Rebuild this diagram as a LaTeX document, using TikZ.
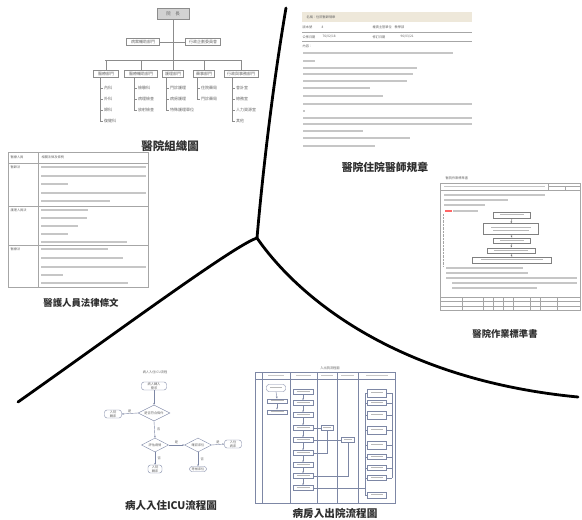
\documentclass[tikz,border=0pt]{standalone}
\usepackage{fontspec}
\newfontfamily\cjk{Noto Sans CJK TC}
\usetikzlibrary{shapes.geometric,arrows.meta}
\definecolor{flowc}{RGB}{125,135,165}
\definecolor{beige}{RGB}{238,232,218}
% a short grey bar standing in for a line of small print
\newcommand{\tbar}[1]{\textcolor{gray!55}{\rule[0.3pt]{#1}{1.2pt}}}

\begin{document}
\begin{tikzpicture}[x=1pt,y=-1pt,
  tiny/.style={font=\cjk\fontsize{4}{4.6}\selectfont, text=black!60, inner sep=0.6pt},
  micro/.style={font=\cjk\fontsize{3.2}{3.7}\selectfont, text=black!60, inner sep=0.4pt},
  orgbox/.style={draw=black!45, line width=0.5pt, fill=white, tiny, minimum height=7pt, inner sep=0.8pt},
  orgline/.style={draw=black!45, line width=0.5pt},
  caption/.style={font=\cjk\bfseries\fontsize{#1}{#1}\selectfont, text=black!82, inner sep=0pt},
  grid/.style={draw=black!35, line width=0.4pt},
  txtbar/.style={draw=gray!45, line width=1.3pt},
  flow/.style={draw=flowc, line width=0.4pt},
  flowbox/.style={flow, fill=white, micro, inner sep=0.5pt, align=center},
  term/.style={flowbox, rounded corners=2.5pt},
  dia/.style={flow, diamond, aspect=2, inner sep=0.2pt, fill=white, micro},
  arr/.style={flow, -{Stealth[length=2pt,width=1.6pt]}},
  branch/.style={line width=2.8pt, line cap=round, draw=black}]

\useasboundingbox[fill=white] (0,0) rectangle (582,520);

% ---------------- dividing strokes ----------------
\coordinate (topend) at (286,8);
\coordinate (junc) at (257,238);
\coordinate (leftend) at (18,402);
\coordinate (rightend) at (578,397);
\draw[branch] (topend) .. controls (272,90) and (262,180) .. (junc);
\draw[branch] (junc) .. controls (235,245) and (120,330) .. (leftend);
\draw[branch] (junc) .. controls (300,300) and (400,380) .. (rightend);

% ---------------- organisation chart ----------------
\node[orgbox, fill=gray!35, minimum width=32pt, minimum height=11pt, font=\cjk\fontsize{4.5}{5}\selectfont] (head) at (173,14) {院\quad 長};
\node[orgbox, minimum width=33pt] (aux1) at (143,42) {病案輔助部門};
\node[orgbox, minimum width=35pt] (aux2) at (203,42) {行政企劃委員會};
\draw[orgline] (aux1.east) -- (aux2.west);
\coordinate (busL) at (105,60);
\coordinate (busR) at (241,60);
\draw[orgline] (head.south) -- (173,60);
\draw[orgline] (busL) -- (busR);

\node[orgbox, minimum width=25pt] (d1) at (106,74) {醫療部門};
\node[orgbox, minimum width=33pt] (d2) at (141,74) {醫療輔助部門};
\node[orgbox, minimum width=21pt] (d3) at (173,74) {護理部門};
\node[orgbox, minimum width=21pt] (d4) at (204,74) {藥事部門};
\node[orgbox, minimum width=34pt] (d5) at (241,74) {行政與事務部門};
\foreach \d in {d1,d2,d3,d4,d5}
  \draw[orgline] (\d.north) -- (\d.north |- busL);

\foreach \d/\lx/\items in {
  d1/100/{內科,外科,婦科,復健科},
  d2/134/{檢驗科,病理檢查,放射檢查},
  d3/166/{門診護理,病房護理,特殊護理單位},
  d4/197/{住院藥局,門診藥局},
  d5/232/{會計室,總務室,人力資源室,其他}}{
  \foreach \it [count=\k] in \items {
    \pgfmathsetmacro{\yy}{77+11*\k}
    \draw[orgline] (\lx,\yy) -- ++(3,0);
    \node[tiny, anchor=west] (\d-\k) at (\lx+3.3,\yy) {\it};
    \xdef\lasty{\yy}
  }
  \draw[orgline] (\lx,78) -- (\lx,\lasty);
}
\node[caption=11.5] (orgtitle) at (170,146) {醫院組織圖};

% ---------------- resident regulations ----------------
\fill[beige] (302,12) rectangle (472,22);
\node[micro, anchor=west] (regname) at (306,17) {名稱：住院醫師規章};
\draw[grid] (302,32) -- (472,32);
\draw[grid] (302,41.5) -- (472,41.5);
\node[micro, anchor=west] (r1a) at (302,27) {版本號};
\node[micro, anchor=west] (r1b) at (321,27) {8};
\node[micro, anchor=west] (r1c) at (372,27) {權責主管單位};
\node[micro, anchor=west] (r1d) at (394,27) {教學部};
\node[micro, anchor=west] (r2a) at (302,37) {公佈日期};
\node[micro, anchor=west] (r2b) at (322,37) {76/02/18};
\node[micro, anchor=west] (r2c) at (372,37) {修訂日期};
\node[micro, anchor=west] (r2d) at (400,37) {96/03/21};
\node[micro, anchor=west] (r3a) at (302,46) {內容：};
\foreach \yy/\xe in {53/453, 61/315, 68/417, 74/413, 81/407, 88/370, 96/383,
                     104/472, 111/305, 118/472, 124/472, 131/363, 138/410, 146/375}
  \draw[txtbar] (303,\yy) -- (\xe,\yy);
\node[caption=10.8] (regtitle) at (385,167) {醫院住院醫師規章};

% ---------------- law table ----------------
\draw[grid] (8,152) rectangle (148,287);
\draw[grid] (38,152) -- (38,287);
\foreach \yy in {163,206,245} \draw[grid] (8,\yy) -- (148,\yy);
\node[micro, anchor=west] (lawh1) at (10,157.5) {醫療人員};
\node[micro, anchor=west] (lawh2) at (41,157.5) {相關法律及條例};
\node[micro, anchor=west] (law1) at (10,167) {醫師法};
\node[micro, anchor=west] (law2) at (10,210) {護理人員法};
\node[micro, anchor=west] (law3) at (10,249) {醫療法};
\foreach \yy/\xe in {167/146, 176/146, 184/68, 193/146, 201/110,
                     210/88, 218/87, 226/78, 234/68, 242/127,
                     249/108, 258/123, 267/146, 275/63, 283/128}
  \draw[txtbar] (41,\yy) -- (\xe,\yy);
\node[caption=9.4] (lawtitle) at (81,303) {醫護人員法律條文};

% ---------------- standard operating procedure ----------------
\node[micro, anchor=west] (sophead) at (445,178.5) {醫院作業標準書};
\draw[grid] (440,183) rectangle (580,310);
\draw[grid] (440,190) -- (580,190);
\draw[grid] (548,183) -- (548,190);
\draw[grid] (548,186.5) -- (580,186.5);
\draw[grid] (565,186.5) -- (565,190);
\foreach \yy/\xs/\xe in {186.5/444/545, 195/444/545, 200/444/508, 205/444/485, 211/453/478,
                         268/446/523, 273/446/528, 278/446/577, 283/452/577, 288/452/537}
  \draw[txtbar] (\xs,\yy) -- (\xe,\yy);
\draw[red!60, line width=1.3pt] (445,211) -- (452,211);
\draw[grid, densely dotted] (443,214) -- (443,266);
\node[flowbox, draw=black!50, minimum width=37pt, minimum height=6pt] (s1) at (512,215) {\tbar{24pt}};
\node[flowbox, draw=black!50, minimum width=55pt, minimum height=11pt] (s2) at (511,229) {\tbar{40pt}\\[-0.5pt]\tbar{36pt}};
\node[flowbox, draw=black!50, minimum width=37pt, minimum height=5.5pt] (s3) at (512,240.5) {\tbar{24pt}};
\node[flowbox, draw=black!50, minimum width=48pt, minimum height=5.5pt] (s4) at (511,250.5) {\tbar{34pt}};
\node[flowbox, draw=black!50, minimum width=79pt, minimum height=6pt] (s5) at (512,260) {\tbar{62pt}};
\foreach \a/\b in {s1/s2, s2/s3, s3/s4, s4/s5}
  \draw[arr, draw=black!55] (\a.south) -- (\b.north);
\draw[grid] (440,301.5) -- (580,301.5);
\draw[grid] (440,306) -- (580,306);
\draw[grid] (440,297) -- (580,297);
\foreach \xx in {462,483,493,503,513,530,540,557} \draw[grid] (\xx,297) -- (\xx,310);
\node[caption=9.3] (soptitle) at (505,334) {醫院作業標準書};

% ---------------- ICU admission flowchart ----------------
\node[micro] (icuhead) at (155,372) {病人入住ICU流程};
\node[term, minimum width=25pt, minimum height=8pt] (i0) at (154,386) {病人轉入\\需求};
\node[dia, minimum width=32pt, minimum height=16pt] (i1) at (154,413) {是否符合條件};
\node[term, minimum width=17pt, minimum height=8pt] (i1l) at (113,414) {入院\\轉床};
\node[dia, minimum width=27pt, minimum height=14pt] (i2) at (155,445) {評估病情};
\node[dia, minimum width=27pt, minimum height=14pt] (i3) at (198,445) {確認床位};
\node[term, minimum width=17pt, minimum height=8pt] (i3r) at (233,444) {入住\\病床};
\node[term, minimum width=14pt, minimum height=8pt] (i2d) at (155,469) {入院\\轉床};
\node[term, minimum width=17pt, minimum height=5pt] (i3d) at (198,469) {等候床位};
\draw[arr] (i0.south) -- (i1.north);
\draw[arr] (i1.west) -- (i1l.east) node[micro, midway, above=0.5pt] {是};
\draw[arr] (i1.south) -- (i2.north) node[micro, midway, right=2pt] {否};
\draw[arr] (i2.east) -- (i3.west) node[micro, midway, above=0.5pt] {是};
\draw[arr] (i3.east) -- (i3r.west) node[micro, midway, above=0.5pt] {是};
\draw[arr] (i2.south) -- (i2d.north) node[micro, midway, right=2pt] {否};
\draw[arr] (i3.south) -- (i3d.north) node[micro, midway, right=2pt] {否};
\node[caption=10.5] (icutitle) at (171,505) {病人入住ICU流程圖};

% ---------------- ward admission / discharge swimlanes ----------------
\node[micro] (wardhead) at (330,368) {入出院流程圖};
\draw[flow] (255,372) rectangle (395,503);
\draw[flow] (255,379) -- (395,379);
\foreach \xx in {262,290,317,337,358} \draw[flow] (\xx,372) -- (\xx,503);
\foreach \xs/\xe in {268/284, 296/311, 321/333, 341/354, 366/388}
  \draw[txtbar, line width=1pt] (\xs,375.5) -- (\xe,375.5);
% lane 1
\node[term, minimum width=19pt, minimum height=7pt] (w10) at (276,388) {\tbar{12pt}};
\node[flowbox, minimum width=20pt, minimum height=4.5pt] (w11) at (277,401) {\tbar{13pt}};
\node[flowbox, minimum width=20pt, minimum height=4.5pt] (w12) at (277,412) {\tbar{13pt}};
\draw[arr] (w10.south) -- (w11.north);
\draw[arr] (w11.south) -- (w12.north);
% lane 2
\foreach \yy [count=\k] in {392,403,415,428,440,453,465,476,488}
  \node[flowbox, minimum width=20pt, minimum height=5pt] (w2\k) at (303,\yy) {\tbar{13pt}};
\foreach \k [evaluate=\k as \n using int(\k+1)] in {1,...,8}
  \draw[arr] (w2\k.south) -- (w2\n.north);
% lanes 3 and 4
\node[flowbox, minimum width=12pt, minimum height=5pt] (w31) at (327,428) {\tbar{8pt}};
\node[flowbox, minimum width=13pt, minimum height=5pt] (w41) at (348,440) {\tbar{8pt}};
\draw[flow] (w24.east) -- (w31.west);
\draw[flow] (w25.east) -- (w41.west);
\draw[flow] (w31.south) |- (w26.east);
\draw[flow] (w28.east) -| (w41.south);
% lane 5
\foreach \yy/\hh [count=\k] in {393/8, 403/5, 415/8, 430/8, 445/8, 457/5, 468/5, 478/5, 495/6}
  \node[flowbox, minimum width=19pt, minimum height=\hh pt] (w5\k) at (377,\yy) {\tbar{12pt}};
\coordinate (w5top) at (365,393);
\coordinate (w5bot) at (365,495);
\draw[flow] (w5top) -- (w5bot);
\foreach \k in {1,...,9} \draw[flow] (w5\k.west) -- (w5\k.west -| w5top);
\coordinate (w5rtop) at (392,393);
\coordinate (w5rbot) at (392,478);
\draw[flow] (w5rtop) -- (w5rbot);
\foreach \k in {1,...,8} \draw[flow] (w5\k.east) -- (w5\k.east -| w5rtop);
\draw[flow] (w29.east) -- (w29.east -| w5top);
\node[caption=10.6] (wardtitle) at (335,513) {病房入出院流程圖};

\end{tikzpicture}
\end{document}
